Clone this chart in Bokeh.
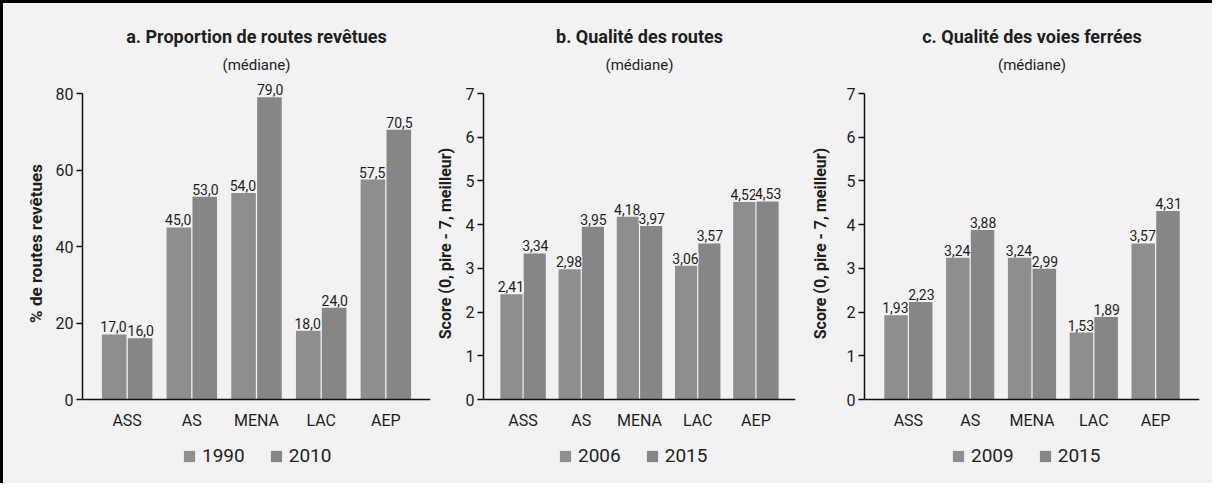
from bokeh.plotting import figure
from bokeh.models import ColumnDataSource, FactorRange, LabelSet, Label, Legend, LegendItem, Span
from bokeh.core.properties import value
from bokeh.transform import dodge
from bokeh.layouts import row
from bokeh.embed import file_html
from bokeh.resources import INLINE

categories = ["ASS", "AS", "MENA", "LAC", "AEP"]

years_a = ["1990", "2010"]
paved_1990 = [17.0, 45.0, 54.0, 18.0, 57.5]
paved_2010 = [16.0, 53.0, 79.0, 24.0, 70.5]

years_b = ["2006", "2015"]
roads_2006 = [2.41, 2.98, 4.18, 3.06, 4.52]
roads_2015 = [3.34, 3.95, 3.97, 3.57, 4.53]

years_c = ["2009", "2015"]
rail_2009 = [1.93, 3.24, 3.24, 1.53, 3.57]
rail_2015 = [2.23, 3.88, 2.99, 1.89, 4.31]

ticks_a = [0, 20, 40, 60, 80]
ticks_bc = [0, 1, 2, 3, 4, 5, 6, 7]

BG = "#f2f2f2"
FONT = "Roboto"
TXT = "#1e1e1e"
C1 = "#8e8e8e"
C2 = "#868686"
HEIGHT = 480          # canvas height (starts at page y = 11)
AXIS_PX = 306         # pixels between value 0 and the axis maximum
ABOVE_PX = 90         # pixels from canvas top to axis maximum
BELOW_PX = 84         # pixels from value 0 to canvas bottom


def fmt1(v):
    return f"{v:.1f}".replace(".", ",")


def fmt2(v):
    return f"{v:.2f}".replace(".", ",")


def panel(title, ylabel, years, s1, s2, ymax, ticks, fmt, width, left, right, pad,
          standoff, ylabel_size, legend_x):
    s = ymax / AXIS_PX  # data units per pixel
    src = ColumnDataSource(dict(cat=categories, v1=s1, v2=s2,
                                t1=[fmt(v) for v in s1], t2=[fmt(v) for v in s2]))
    p = figure(x_range=FactorRange(factors=categories, range_padding=pad,
                                   range_padding_units="absolute"),
               y_range=(-BELOW_PX * s, ymax + ABOVE_PX * s), width=width, height=HEIGHT,
               output_backend="svg", toolbar_location=None, x_axis_location=None,
               min_border_left=left, min_border_right=right,
               min_border_top=0, min_border_bottom=0,
               background_fill_color=BG, border_fill_color=BG,
               outline_line_color=None, styles={"background-color": BG})
    r1 = p.vbar(x=dodge("cat", -0.2, range=p.x_range), top="v1", width=0.38,
                source=src, fill_color=C1, line_color=None)
    r2 = p.vbar(x=dodge("cat", 0.2, range=p.x_range), top="v2", width=0.38,
                source=src, fill_color=C2, line_color=None)
    for key, off in (("1", -0.21), ("2", 0.21)):
        p.add_layout(LabelSet(x=dodge("cat", off, range=p.x_range), y="v" + key,
                              text="t" + key, source=src, text_align="center",
                              text_baseline="bottom", y_offset=2,
                              text_font=value(FONT), text_font_size="14px", text_color=TXT,
                              background_fill_color=BG))
    p.add_layout(Span(location=0, dimension="width", line_color="#111111", line_width=1.5))
    p.text(x="cat", y=-21 * s, text="cat", source=src, text_align="center",
           text_baseline="middle", text_font=value(FONT), text_font_size="16px",
           text_color=TXT)
    p.xgrid.grid_line_color = None
    p.ygrid.grid_line_color = None
    p.yaxis.bounds = (0, ymax)
    p.yaxis.ticker = ticks
    p.yaxis.minor_tick_line_color = None
    p.yaxis.major_tick_in = 0
    p.yaxis.major_tick_out = 6
    p.yaxis.major_label_standoff = 3
    p.yaxis.axis_line_width = 1.5
    p.yaxis.major_tick_line_width = 1.5
    p.yaxis.axis_line_color = "#111111"
    p.yaxis.major_tick_line_color = "#111111"
    p.yaxis.major_label_text_font = FONT
    p.yaxis.major_label_text_font_size = "16px"
    p.yaxis.major_label_text_color = TXT
    p.yaxis.axis_label = ylabel
    p.yaxis.axis_label_text_font = FONT
    p.yaxis.axis_label_text_font_style = "bold"
    p.yaxis.axis_label_text_font_size = ylabel_size
    p.yaxis.axis_label_text_color = TXT
    p.yaxis.axis_label_standoff = standoff

    cx = len(categories) / 2
    p.add_layout(Label(x=cx, y=ymax + 57 * s, text=title, text_align="center",
                       text_baseline="middle", text_font=FONT, text_font_style="bold",
                       text_font_size="18px", text_color=TXT))
    p.add_layout(Label(x=cx, y=ymax + 29 * s, text="(médiane)", text_align="center",
                       text_baseline="middle", text_font=FONT,
                       text_font_size="15px", text_color=TXT))

    legend = Legend(items=[LegendItem(label=years[0], renderers=[r1]),
                           LegendItem(label=years[1], renderers=[r2])],
                    orientation="horizontal", location=(legend_x, 16),
                    border_line_color=None, background_fill_alpha=0,
                    glyph_width=14, glyph_height=14, label_text_font=FONT,
                    label_text_font_size="19px", label_text_color=TXT,
                    spacing=24, label_standoff=6, margin=0, padding=4)
    p.add_layout(legend, "center")
    return p


p1 = panel("a. Proportion de routes revêtues", "% de routes revêtues", years_a,
           paved_1990, paved_2010, 80, ticks_a, fmt1, 429, 79, 2, 0.19, 7, "17px", 100)
p2 = panel("b. Qualité des routes", "Score (0, pire - 7, meilleur)", years_b,
           roads_2006, roads_2015, 7, ticks_bc, fmt2, 375, 42, 12, 0.18, 8, "16px", 75)
p3 = panel("c. Qualité des voies ferrées", "Score (0, pire - 7, meilleur)", years_c,
           rail_2009, rail_2015, 7, ticks_bc, fmt2, 405, 43, 13, 0.21, 14, "16px", 87)

layout = row(p1, p2, p3, styles={"border-top": "3px solid #000",
                                 "border-left": "3px solid #000",
                                 "background-color": BG})

open("out.html", "w").write(file_html(layout, INLINE))
